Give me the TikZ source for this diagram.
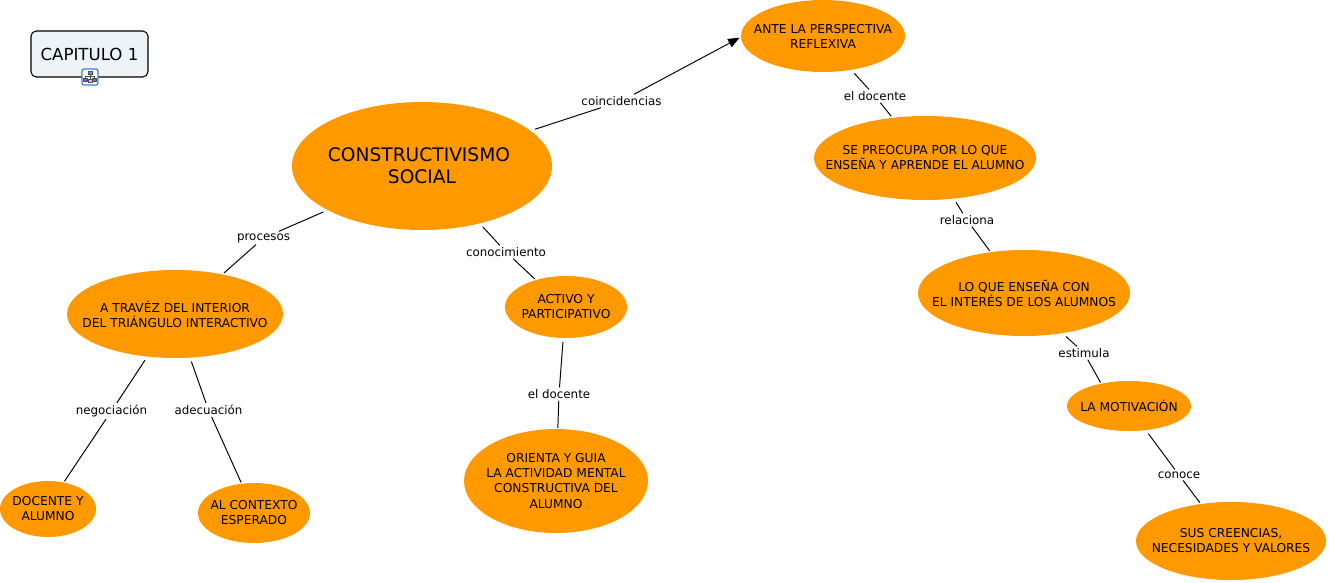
\documentclass[tikz,border=0pt]{standalone}
\usepackage{fontspec}
\setmainfont{DejaVu Sans}
\usepackage{tikz}
\usetikzlibrary{shapes.geometric,arrows.meta}
\definecolor{conceptorange}{HTML}{FF9900}
\definecolor{boxfill}{HTML}{EDF3F6}
\definecolor{iconblue}{HTML}{3F7FD0}

\begin{document}
\begin{tikzpicture}[>={Triangle[length=6.6pt,width=5.2pt]}]
    \tikzset{concept/.style={ellipse, fill=conceptorange, inner xsep=-1cm, inner ysep=-0.5cm, outer sep=2.3pt, align=center, font=\fontsize{6.97pt}{8.55pt}\selectfont},
             linking/.style={fill=white, inner sep=1pt, font=\fontsize{6.75pt}{8.4pt}\selectfont},
             edge/.style={line width=0.55pt, black},
             into/.style={edge, shorten >=-1.6pt}}
    \useasboundingbox (0,0) rectangle (26.58,-11.66);

    % Title box
    \node[draw, line width=0.6pt, rounded corners=3pt, fill=boxfill, minimum width=2.34cm, minimum height=0.92cm, inner sep=0pt, font=\fontsize{9.45pt}{11pt}\selectfont] (capitulo) at (1.79,-1.08) {CAPITULO 1};
    \node[draw=iconblue, line width=0.7pt, fill=white, rounded corners=1.2pt, minimum size=0.32cm, inner sep=0pt] (icon) at (1.8,-1.54) {};
    \draw[line width=0.2pt, draw=black!70, fill=blue!50!white] (1.76,-1.42) rectangle (1.84,-1.48);
    \draw[line width=0.2pt, draw=black!70] (1.8,-1.48) -- (1.8,-1.52) (1.71,-1.56) -- (1.71,-1.52) -- (1.89,-1.52) -- (1.89,-1.56) (1.8,-1.52) -- (1.8,-1.58);
    \draw[line width=0.2pt, draw=black!70, fill=blue!60!white] (1.67,-1.56) rectangle (1.75,-1.62);
    \draw[line width=0.2pt, draw=black!70, fill=blue!60!white] (1.85,-1.56) rectangle (1.93,-1.62);
    \draw[line width=0.2pt, draw=black!70, fill=red!30] (1.76,-1.58) rectangle (1.84,-1.64);

    % Concepts
    \node[concept, minimum width=5.2cm, minimum height=2.56cm, font=\fontsize{10.6pt}{12.6pt}\selectfont] (constructivismo) at (8.44,-3.32) {CONSTRUCTIVISMO\hspace*{3.4pt}\\SOCIAL};
    \node[concept, minimum width=3.28cm, minimum height=1.44cm] (perspectiva) at (16.46,-0.72) {ANTE LA PERSPECTIVA\\REFLEXIVA};
    \node[concept, minimum width=4.44cm, minimum height=1.68cm] (preocupa) at (18.5,-3.16) {SE PREOCUPA POR LO QUE\\ENSEÑA Y APRENDE EL ALUMNO};
    \node[concept, minimum width=4.24cm, minimum height=1.72cm] (ensena) at (20.48,-5.86) {LO QUE ENSEÑA CON\\EL INTERÉS DE LOS ALUMNOS};
    \node[concept, minimum width=2.48cm, minimum height=1.0cm] (motivacion) at (22.58,-8.12) {LA MOTIVACIÓN};
    \node[concept, minimum width=3.8cm, minimum height=1.56cm] (creencias) at (24.62,-10.82) {SUS CREENCIAS,\\NECESIDADES Y VALORES};
    \node[concept, minimum width=4.32cm, minimum height=1.76cm] (triangulo) at (3.5,-6.28) {A TRAVÉZ DEL INTERIOR\\DEL TRIÁNGULO INTERACTIVO};
    \node[concept, minimum width=2.44cm, minimum height=1.24cm] (activo) at (11.32,-6.14) {ACTIVO Y\\PARTICIPATIVO};
    \node[concept, minimum width=3.68cm, minimum height=2.08cm] (orienta) at (11.12,-9.62) {ORIENTA Y GUIA\\LA ACTIVIDAD MENTAL\\CONSTRUCTIVA DEL\\ALUMNO};
    \node[concept, minimum width=1.92cm, minimum height=1.12cm] (docente) at (0.96,-10.18) {DOCENTE Y\\ALUMNO};
    \node[concept, minimum width=2.24cm, minimum height=1.2cm] (contexto) at (5.08,-10.26) {AL CONTEXTO\\ESPERADO};

    % Linking phrases
    \node[linking] (coincidencias) at (12.43,-2.02) {coincidencias};
    \node[linking] (docenteuno) at (17.5,-1.92) {el docente};
    \node[linking] (relaciona) at (19.34,-4.4) {relaciona};
    \node[linking] (estimula) at (21.68,-7.06) {estimula};
    \node[linking] (conoce) at (23.58,-9.5) {conoce};
    \node[linking] (procesos) at (5.27,-4.76) {procesos};
    \node[linking] (conocimiento) at (10.12,-5.04) {conocimiento};
    \node[linking] (docentedos) at (11.18,-7.88) {el docente};
    \node[linking] (negociacion) at (2.23,-8.22) {negociación};
    \node[linking] (adecuacion) at (4.17,-8.2) {adecuación};

    % Connections
    \draw[edge] (constructivismo.18) -- (coincidencias);
    \draw[into, ->] (coincidencias) -- (perspectiva.182);
    \draw[edge] (perspectiva.-50) -- (docenteuno);
    \draw[into] (docenteuno) -- (preocupa.129);
    \draw[edge] (preocupa.-55) -- (relaciona);
    \draw[into] (relaciona) -- (ensena.129);
    \draw[edge] (ensena.-46) -- (estimula);
    \draw[into] (estimula) -- (motivacion.139);
    \draw[edge] (motivacion.-55) -- (conoce);
    \draw[into] (conoce) -- (creencias.129);
    \draw[edge] (constructivismo.205) -- (procesos);
    \draw[into] (procesos) -- (triangulo.40);
    \draw[edge] (constructivismo.-45) -- (conocimiento);
    \draw[into] (conocimiento) -- (activo.138);
    \draw[edge] (activo.-95) -- (docentedos);
    \draw[into] (docentedos) -- (orienta.88);
    \draw[edge] (triangulo.237) -- (negociacion);
    \draw[into] (negociacion) -- (docente.59);
    \draw[edge] (triangulo.-71) -- (adecuacion);
    \draw[into] (adecuacion) -- (contexto.113);
\end{tikzpicture}
\end{document}
